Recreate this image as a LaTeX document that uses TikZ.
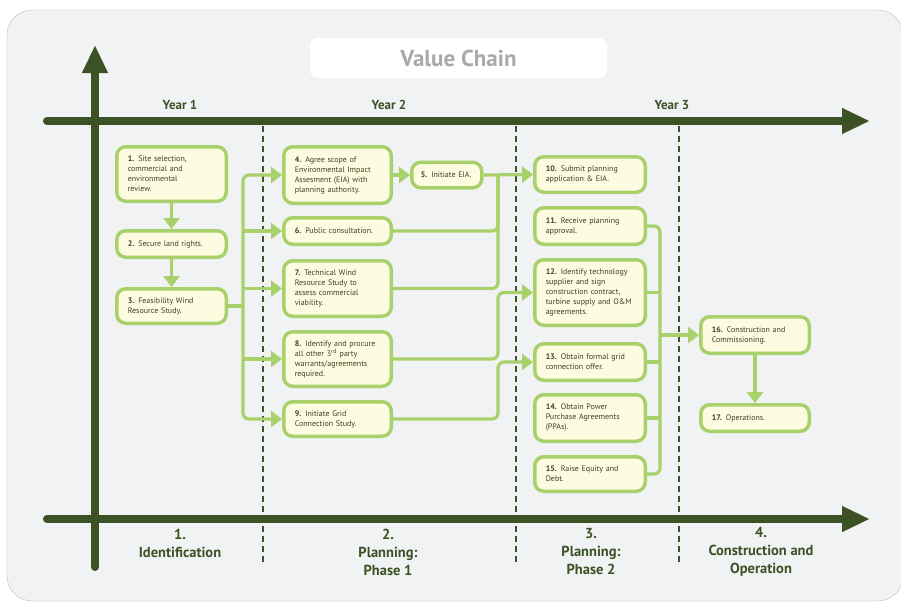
\documentclass[tikz,border=0pt]{standalone}
\usepackage{fontspec}
\setmainfont{PT Sans}
\usetikzlibrary{arrows.meta, positioning}
\definecolor{panel}{HTML}{F1F2F4}
\definecolor{panelline}{HTML}{BCBEC0}
\definecolor{axisgreen}{HTML}{3C5124}
\definecolor{boxline}{HTML}{A9D16B}
\definecolor{boxfill}{HTML}{FDFCE1}
\definecolor{boxtext}{HTML}{36451F}
\definecolor{titlegray}{HTML}{A7A9AC}
\tikzstyle{stage} = [rectangle, rounded corners=9pt, draw=boxline, line width=3.5pt,
fill=boxfill, text=boxtext, align=left, inner xsep=11pt, inner ysep=3pt, font=\fontsize{8}{10}\selectfont]
\tikzstyle{ident} = [stage, text width=87.5pt]
\tikzstyle{phaseone} = [stage, text width=85.5pt]
\tikzstyle{phasetwo} = [stage, text width=88.5pt]
\tikzstyle{build} = [stage, text width=86.5pt]
\tikzstyle{link} = [draw=boxline, line width=3.2pt, rounded corners=6pt]
\tikzstyle{arrow} = [link, -{Triangle[length=11pt,width=16pt]}]
\tikzstyle{axis} = [draw=axisgreen, line width=8pt, line cap=round, -{Triangle[length=28pt,width=24pt]}]
\tikzstyle{divider} = [draw=axisgreen, line width=2pt, dash pattern=on 6pt off 4pt]
\tikzstyle{year} = [text=axisgreen, font=\fontsize{13}{15}\selectfont\bfseries]
\tikzstyle{phase} = [text=axisgreen, align=center, font=\fontsize{14.5}{18}\selectfont\bfseries]

\begin{document}
\begin{tikzpicture}[x=1pt, y=-1pt]
      \useasboundingbox (0,0) rectangle (901,603);
      \draw [fill=panel, draw=panelline, rounded corners=25pt] (7,10) rectangle (903,601);
      \node (title) [fill=white, rounded corners=8pt, minimum width=297pt, minimum height=40pt,
        text=titlegray, font=\fontsize{23}{26}\selectfont\bfseries] at (458.5,58) {Value Chain};

      % time line and phases
      \foreach \x in {263,516,679}
        \draw [divider] (\x,126) -- (\x,565);
      \draw [axis] (95,567) -- (95,45);
      \draw [axis] (47,121) -- (870,121);
      \draw [axis] (47,519) -- (870,519);
      \node (yr1) [year] at (180,105) {Year 1};
      \node (yr2) [year] at (389,105) {Year 2};
      \node (yr3) [year] at (672,105) {Year 3};
      \node (ph1) [phase] at (180,543) {1.\\Identification};
      \node (ph2) [phase] at (388,552) {2.\\Planning:\\Phase 1};
      \node (ph3) [phase] at (591,552) {3.\\Planning:\\Phase 2};
      \node (ph4) [phase] at (761,552) {4.\\Construction and\\Operation};

      \node (s1) [ident, minimum height=54.5pt] at (171.5,174) {\textbf{1.} Site selection,\\commercial and\\environmental\\review.};
      \node (s2) [ident, minimum height=26.5pt, below=26pt of s1] {\textbf{2.} Secure land rights.};
      \node (s3) [ident, minimum height=34.5pt, below=28pt of s2] {\textbf{3.} Feasibility Wind\\Resource Study.};

      \node (s4) [phaseone, minimum height=56.5pt] at (337.5,175) {\textbf{4.} Agree scope of\\Environmental Impact\\Assesment (EIA) with\\planning authority.};
      \node (s5) [stage, inner xsep=9pt, text width=52pt, minimum height=25.5pt, right=17pt of s4] {\textbf{5.} Initiate EIA.};
      \node (s6) [phaseone, minimum height=26.5pt, below=11pt of s4] {\textbf{6.} Public consultation.};
      \node (s7) [phaseone, minimum height=55.5pt, below=13pt of s6] {\textbf{7.} Technical Wind\\Resource Study to\\assess commercial\\viability.};
      \node (s8) [phaseone, minimum height=54.5pt, below=12pt of s7] {\textbf{8.} Identify and procure\\all other 3\textsuperscript{rd} party\\warrants/agreements\\required.};
      \node (s9) [phaseone, minimum height=34.5pt, below=12pt of s8] {\textbf{9.} Initiate Grid\\Connection Study.};

      \node (s10) [phasetwo, minimum height=35.5pt] at (590,174.5) {\textbf{10.} Submit planning\\application \& EIA.};
      \node (s11) [phasetwo, minimum height=36.5pt, below=12pt of s10] {\textbf{11.} Receive planning\\approval.};
      \node (s12) [phasetwo, minimum height=65.5pt, below=12pt of s11] {\textbf{12.} Identify technology\\supplier and sign\\construction contract,\\turbine supply and O\&M\\agreements.};
      \node (s13) [phasetwo, minimum height=36.5pt, below=15pt of s12] {\textbf{13.} Obtain formal grid\\connection offer.};
      \node (s14) [phasetwo, minimum height=46.5pt, below=11pt of s13] {\textbf{14.} Obtain Power\\Purchase Agreements\\(PPAs).};
      \node (s15) [phasetwo, minimum height=34.5pt, below=12pt of s14] {\textbf{15.} Raise Equity and\\Debt.};

      \node (s16) [build, minimum height=36.5pt] at (755,335) {\textbf{16.} Construction and\\Commissioning.};
      \node (s17) [build, minimum height=26.5pt, below=48pt of s16] {\textbf{17.} Operations.};

      \coordinate (split) at (243,306);
      \coordinate (merge1) at (498,174.5);
      \coordinate (merge2) at (660,335);
      \coordinate (bendB) at (s12.west -| merge1);
      \coordinate (bendC) at (s13.west -| merge1);

      \draw [arrow] (s1) -- (s2);
      \draw [arrow] (s2) -- (s3);
      \draw [link] (s3.east) -- (split);
      \draw [arrow] (split) |- (s4.west);
      \draw [arrow] (split) |- (s9.west);
      \draw [arrow] (split |- s6.west) -- (s6.west);
      \draw [arrow] (split |- s7.west) -- (s7.west);
      \draw [arrow] (split |- s8.west) -- (s8.west);
      \draw [arrow] (s4) -- (s5);
      \draw [arrow] (s5.east) -- (s10.west);
      \draw [link] (s6.east) -| (merge1);
      \draw [link] (s7.east) -| (merge1);
      \draw [arrow] (s8.east) -| (bendB) -- (s12.west);
      \draw [arrow] (s9.east) -| (bendC) -- (s13.west);
      \draw [link] (s11.east) -| (merge2);
      \draw [link] (s15.east) -| (merge2);
      \draw [link] (s12.east) -- (s12.east -| merge2);
      \draw [link] (s13.east) -- (s13.east -| merge2);
      \draw [link] (s14.east) -- (s14.east -| merge2);
      \draw [arrow] (merge2) -- (s16.west);
      \draw [arrow] (s16) -- (s17);
    \end{tikzpicture}
\end{document}
